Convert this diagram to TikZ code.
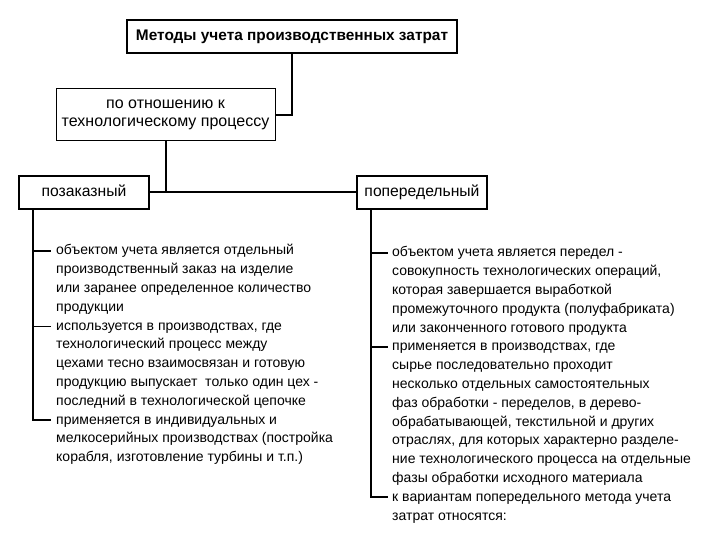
\documentclass[tikz,border=0pt]{standalone}
\usepackage{fontspec}
\setmainfont{Liberation Sans}
\usepackage{tikz}

\begin{document}
\begin{tikzpicture}[
    x=1pt, y=-1pt,
    every node/.style={font=\fontsize{14}{18.8}\selectfont},
    box/.style={
        draw,
        line width=2pt,
        minimum width=130pt,
        minimum height=33pt,
        inner sep=0pt,
        text height=11pt,
        text depth=3.5pt,
        align=center,
        font=\fontsize{15.7}{17}\selectfont
    },
    subbox/.style={
        draw,
        line width=1pt,
        minimum width=219pt,
        minimum height=52pt,
        inner sep=0pt,
        align=center,
        font=\fontsize{16}{18}\selectfont
    },
    item/.style={
        anchor=north west,
        align=left,
        inner sep=0pt
    },
    link/.style={line width=2pt},
    tick/.style={line width=1.4pt}
]

\useasboundingbox (0,0) rectangle (720,540);

% Head of the tree
\node[box, minimum width=330pt, font=\bfseries\fontsize{15.4}{17}\selectfont]
    (methods) at (292,36.5) {Методы учета производственных затрат};
\node[subbox] (process) at (165.5,115) {по отношению к\\технологическому процессу};

% The two methods
\node[box] (order) at (84,192.5) {позаказный};
\node[box] (stage) at (422,192.5) {попередельный};

\draw[link] (methods.south) |- (process.east);
\draw[link] (order) -- (stage);
\draw[link] (process.south) -- (process.south |- order.east);

% Left column: order method
\node[item] (order1) at (56,241.5) {\strut объектом учета является отдельный\\
    производственный заказ на изделие\\
    или заранее определенное количество\\
    продукции};
\node[item] (order2) at (56,316.7) {\strut используется в производствах, где\\
    технологический процесс между\\
    цехами тесно взаимосвязан и готовую\\
    продукцию выпускает\ \ только один цех -\\
    последний в технологической цепочке};
\node[item] (order3) at (56,410.7) {\strut применяется в индивидуальных и\\
    мелкосерийных производствах (постройка\\
    корабля, изготовление турбины и т.п.)};

% Right column: stage method
\node[item] (stage1) at (392,243.5) {\strut объектом учета является передел -\\
    совокупность технологических операций,\\
    которая завершается выработкой\\
    промежуточного продукта (полуфабриката)\\
    или законченного готового продукта};
\node[item] (stage2) at (392,337.5) {\strut применяется в производствах, где\\
    сырье последовательно проходит\\
    несколько отдельных самостоятельных\\
    фаз обработки - переделов, в дерево-\\
    обрабатывающей, текстильной и других\\
    отраслях, для которых характерно разделе-\\
    ние технологического процесса на отдельные\\
    фазы обработки исходного материала};
\node[item] (stage3) at (392,487.9) {\strut к вариантам попередельного метода учета\\
    затрат относятся:};

% Trunks and ticks
\coordinate (ordertrunk) at ([xshift=15pt]order.south west);
\coordinate (stagetrunk) at ([xshift=15pt]stage.south west);
\foreach \i in {1,2,3} {
    \coordinate (order\i t) at ([xshift=-5pt,yshift=-9.5pt]order\i.north west);
    \coordinate (stage\i t) at ([xshift=-4pt,yshift=-9.5pt]stage\i.north west);
}
\draw[link] (ordertrunk) |- (order3t);
\draw[link] (stagetrunk) |- (stage3t);
\foreach \i in {1,2} {
    \draw[tick] (ordertrunk |- order\i t) -- (order\i t);
    \draw[tick] (stagetrunk |- stage\i t) -- (stage\i t);
}

\end{tikzpicture}
\end{document}
